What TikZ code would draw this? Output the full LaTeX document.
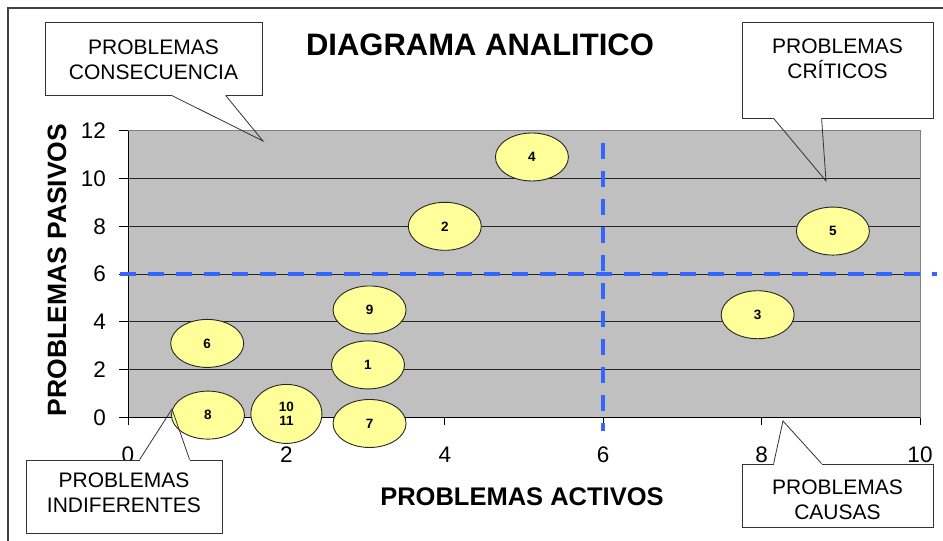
\documentclass[tikz,border=0pt]{standalone}
\usepackage{fontspec}
\setmainfont{Liberation Sans}
\usetikzlibrary{shapes.geometric}
\definecolor{plotgray}{HTML}{C0C0C0}
\definecolor{bordergray}{HTML}{808080}
\definecolor{framegray}{HTML}{404040}
\definecolor{ptyellow}{HTML}{FFFF99}
\definecolor{cutblue}{HTML}{3366FF}
\tikzset{
  prob/.style={ellipse, draw=black!85, fill=ptyellow, line width=0.9pt,
    minimum width=73pt, minimum height=48pt, inner sep=0pt, align=center,
    font=\fontsize{13.5}{14.5}\selectfont\bfseries},
  gridline/.style={black!85, line width=0.9pt},
  axisline/.style={black, line width=1pt},
  ticklabel/.style={inner sep=0pt, font=\fontsize{22.5}{24}\selectfont},
  axistitle/.style={inner sep=0pt, font=\fontsize{25.5}{27}\selectfont\bfseries},
  cutline/.style={cutblue, line width=4pt, dash pattern=on 16pt off 12pt},
  callbox/.style={rectangle, draw=black!80, fill=white, line width=0.8pt, inner sep=0pt},
  calltext/.style={inner sep=0pt, align=center, font=\fontsize{21}{25}\selectfont},
  callline/.style={black!80, line width=0.8pt},
  callgap/.style={white, line width=1.8pt},
}
\begin{document}
\begin{tikzpicture}[x=1pt,y=-1pt]
  \useasboundingbox (0,0) rectangle (943,541);
  \draw[framegray, line width=2pt] (8,541) -- (8,8) -- (943,8);
  \node[font=\fontsize{31}{33}\selectfont\bfseries] (title) at (480,45) {DIAGRAMA ANALITICO};

  \begin{scope}[shift={(128,417.5)}, x=79.2pt, y=23.9pt]
    \fill[plotgray] (0,0) rectangle (10,12);
    \draw[bordergray, line width=1pt] (0,12) -- (10,12) -- (10,0);
    \foreach \y in {2,4,...,10}
      \draw[gridline] (0,\y) -- (10,\y);
    \draw[axisline] (10,0) -- (0,0) -- (0,12);
    \foreach \y in {0,2,...,12}{
      \draw[axisline] (0,\y) -- ++(-9pt,0);
      \node[ticklabel, anchor=east] (yt\y) at ([xshift=-22pt]0,\y) {\y};
    }
    \foreach \x in {0,2,...,10}{
      \draw[axisline] (\x,0) -- ++(0,-7pt);
      \node[ticklabel] (xt\x) at ([yshift=-37.5pt]\x,0) {\x};
    }
    % problemas
    \node[prob] (p4) at (5.1,10.9) {4};
    \node[prob] (p2) at (4,8) {2};
    \node[prob] (p9) at (3.05,4.5) {9};
    \node[prob] (p6) at (1,3.1) {6};
    \node[prob] (p1) at (3.03,2.2) {1};
    \node[prob] (p8) at (1.01,0.1) {8};
    \node[prob, minimum width=71pt, minimum height=59pt] (p10) at (2,0.15) {10\\11};
    \node[prob] (p7) at (3.05,-0.25) {7};
    \node[prob] (p3) at (7.95,4.3) {3};
    \node[prob] (p5) at (8.9,7.8) {5};
    % cuadrantes
    \draw[cutline] (-0.101,6) -- (10.215,6);
    \draw[cutline] (6,11.49) -- (6,-0.565);
  \end{scope}

  \node[axistitle] (xtitle) at (522,497) {PROBLEMAS ACTIVOS};
  \node[axistitle, font=\fontsize{26.5}{28}\selectfont\bfseries, rotate=90] (ytitle) at (57,270) {PROBLEMAS PASIVOS};

  % llamadas
  \node[callbox, minimum width=217pt, minimum height=73pt] (consbox) at (153.5,58.5) {};
  \node[calltext] (constext) at (153.5,59.5) {PROBLEMAS\\CONSECUENCIA};
  \coordinate (constip) at (263,141);
  \draw[callgap] ([xshift=127pt]consbox.south west) -- ([xshift=181pt]consbox.south west);
  \draw[callline] ([xshift=127pt]consbox.south west) -- (constip) -- ([xshift=181pt]consbox.south west);

  \node[callbox, minimum width=191pt, minimum height=96pt] (critbox) at (837.5,70) {};
  \node[calltext] (crittext) at (837.5,59) {PROBLEMAS\\CRÍTICOS};
  \coordinate (crittip) at (826,181);
  \draw[callgap] ([xshift=32pt]critbox.south west) -- ([xshift=80pt]critbox.south west);
  \draw[callline] ([xshift=32pt]critbox.south west) -- (crittip) -- ([xshift=80pt]critbox.south west);

  \node[callbox, minimum width=196pt, minimum height=73pt] (indifbox) at (124,496.5) {};
  \node[calltext] (indiftext) at (124,493) {PROBLEMAS\\INDIFERENTES};
  \coordinate (indiftip) at (172,409);
  \draw[callgap] ([xshift=114pt]indifbox.north west) -- ([xshift=164pt]indifbox.north west);
  \draw[callline] ([xshift=114pt]indifbox.north west) -- (indiftip) -- ([xshift=164pt]indifbox.north west);

  \node[callbox, minimum width=191pt, minimum height=63pt] (causbox) at (837.5,495.5) {};
  \node[calltext] (caustext) at (837.5,500) {PROBLEMAS\\CAUSAS};
  \coordinate (caustip) at (783,421);
  \draw[callgap] ([xshift=32pt]causbox.north west) -- ([xshift=80pt]causbox.north west);
  \draw[callline] ([xshift=32pt]causbox.north west) -- (caustip) -- ([xshift=80pt]causbox.north west);
\end{tikzpicture}
\end{document}
